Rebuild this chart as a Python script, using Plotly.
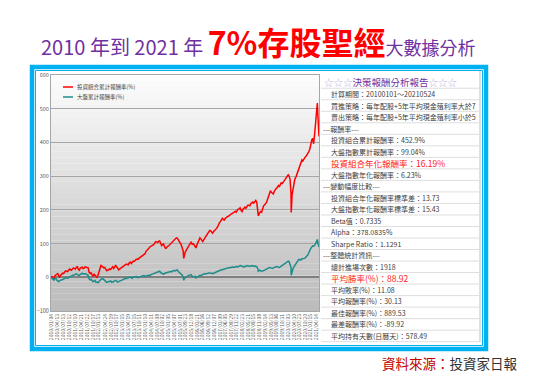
import plotly.graph_objects as go
import pandas as pd

# ---------------- data ----------------
month_starts = pd.date_range("2010-01-01", "2021-05-01", freq="MS")

# value on the 1st of each month
portfolio_monthly = [
    0, -3, 4, 9, 3, 6, 12, 16, 18, 21, 23, 25,            # 2010
    26, 30, 24, 27, 30, 27, 30, 28, 11, 7, 9, 2,          # 2011
    6, 30, 33, 28, 24, 21, 25, 28, 26, 36, 28, 24,        # 2012
    28, 33, 36, 38, 43, 41, 48, 51, 54, 57, 60, 63,       # 2013
    70, 80, 86, 92, 96, 102, 105, 107, 100, 97, 90, 87,   # 2014
    93, 100, 106, 112, 117, 110, 100, 86, 70, 80, 90, 102,  # 2015
    98, 96, 87, 102, 117, 108, 112, 119, 128, 139, 134, 136,  # 2016
    141, 150, 162, 172, 171, 175, 180, 184, 188, 192, 196, 199,  # 2017
    203, 198, 202, 208, 212, 214, 219, 223, 227, 222, 186, 195,  # 2018
    208, 215, 222, 240, 257, 250, 256, 264, 272, 275, 278, 284,  # 2019
    292, 304, 290, 245, 280, 298, 312, 330, 348, 352, 358, 368,  # 2020
    380, 408, 396, 455, 505,                                # 2021
]
# value on the 15th of each month (2010-01 .. 2021-04)
portfolio_mid = [
    2, -5, 8, 11, 0, 10, 11, 19, 17, 24, 21, 28,          # 2010
    24, 31, 21, 29, 26, 31, 27, 15, 13, 3, 6, 0,          # 2011
    18, 35, 30, 29, 20, 24, 23, 31, 33, 31, 22, 27,       # 2012
    31, 33, 39, 37, 45, 44, 47, 53, 53, 59, 63, 65,       # 2013
    77, 81, 90, 95, 97, 106, 103, 108, 94, 99, 86, 92,    # 2014
    96, 104, 107, 115, 116, 107, 97, 78, 74, 83, 95, 104,  # 2015
    100, 92, 96, 110, 114, 106, 116, 123, 131, 138, 131, 138,  # 2016
    145, 158, 165, 175, 170, 178, 181, 187, 189, 195, 193, 202,  # 2017
    206, 195, 206, 205, 214, 212, 222, 220, 228, 205, 191, 193,  # 2018
    212, 218, 230, 248, 252, 247, 262, 266, 268, 280, 282, 288,  # 2019
    298, 300, 250, 262, 292, 305, 318, 338, 345, 355, 362, 372,  # 2020
    400, 412, 420, 490,                                     # 2021
]
market_monthly = [
    0, -8, -4, -9, -13, -9, -5, -3, -1, 0, 3, 5,          # 2010
    8, 10, 7, 9, 12, 10, 9, 6, -8, -10, -11, -15,         # 2011
    -16, -8, -5, -7, -12, -14, -12, -15, -13, -9, -14, -12,  # 2012
    -8, -6, -4, -2, 0, -2, 1, 2, 0, 1, 3, 4,              # 2013
    3, 5, 6, 8, 10, 12, 16, 17, 14, 10, 12, 14,           # 2014
    16, 17, 19, 20, 21, 17, 12, 6, -4, 2, 5, 7,           # 2015
    4, 2, -2, 3, 6, 7, 9, 10, 12, 13, 12, 12,             # 2016
    14, 17, 20, 22, 24, 26, 28, 29, 30, 30, 31, 32,       # 2017
    33, 34, 31, 33, 34, 33, 34, 33, 32, 31, 20, 19,       # 2018
    19, 22, 25, 27, 28, 26, 30, 32, 30, 31, 34, 38,       # 2019
    42, 48, 40, 20, 32, 40, 50, 52, 55, 57, 60, 66,       # 2020
    82, 90, 92, 100, 110,                                 # 2021
]
market_mid = [
    -3, -9, -2, -12, -10, -7, -6, -1, -3, 2, 4, 7,        # 2010
    10, 8, 5, 11, 9, 11, 8, -4, -6, -13, -9, -14,         # 2011
    -12, -6, -4, -9, -15, -12, -11, -14, -10, -11, -13, -10,  # 2012
    -7, -3, -4, -1, 1, -3, 0, 3, -1, 2, 4, 5,             # 2013
    4, 7, 5, 9, 11, 13, 17, 18, 12, 9, 13, 15,            # 2014
    18, 16, 20, 19, 22, 15, 10, 2, -1, 3, 6, 8,           # 2015
    1, 3, 0, 5, 5, 8, 11, 10, 13, 14, 11, 13,             # 2016
    15, 18, 21, 23, 25, 27, 29, 28, 31, 29, 32, 31,       # 2017
    35, 33, 30, 32, 35, 32, 35, 34, 33, 27, 21, 18,       # 2018
    20, 23, 26, 29, 27, 28, 31, 31, 29, 33, 36, 40,       # 2019
    44, 46, 30, 25, 36, 44, 53, 51, 56, 56, 62, 72,       # 2020
    85, 93, 94, 105,                                      # 2021
]
extra_dates = ["2015-08-24", "2018-10-25", "2020-03-19", "2021-04-28", "2021-05-12", "2021-05-24"]
extra_portfolio = [56, 182, 192, 517, 460, 418]
extra_market = [-9, 18, 6, 112, 98, 90]

series_names = ["投資組合累計報酬率(%)", "大盤累計報酬率(%)"]
series_colors = ["#ff0000", "#1f8c8a"]

tick_labels = [
    "2010/01/04", "2010/04/13", "2010/07/13", "2010/10/12", "2011/01/10", "2011/04/21",
    "2011/07/22", "2011/10/17", "2012/01/13", "2012/04/24", "2012/07/19", "2012/10/17",
    "2013/01/15", "2013/04/19", "2013/07/15", "2013/10/11", "2014/01/10", "2014/04/11",
    "2014/07/08", "2014/10/02", "2015/01/05", "2015/04/07", "2015/07/01", "2015/09/23",
    "2015/12/18", "2016/03/21", "2016/06/16", "2016/09/12", "2016/12/07", "2017/03/09",
    "2017/06/05", "2017/08/29", "2017/11/22", "2018/02/23", "2018/05/21", "2018/08/15",
    "2018/11/08", "2019/02/14", "2019/05/13", "2019/08/06", "2019/10/31", "2020/02/03",
    "2020/04/30", "2020/07/23", "2020/10/20", "2021/01/15", "2021/04/14",
]
y_ticks = [-100, 0, 100, 200, 300, 400, 500, 600]

report_title = ("☆☆☆", "決策報酬分析報告", "☆☆☆")
report_rows = [
    ("計算期間：20100101～20210524", "item"),
    ("買進策略：每年配股+5年平均現金殖利率大於7", "item"),
    ("賣出策略：每年配股+5年平均現金殖利率小於5", "item"),
    ("---報酬率---", "section"),
    ("投資組合累計報酬率：452.9%", "item"),
    ("大盤指數累計報酬率：99.04%", "item"),
    ("投資組合年化報酬率：16.19%", "hl"),
    ("大盤指數年化報酬率：6.23%", "item"),
    ("---變動幅度比較---", "section"),
    ("投資組合年化報酬率標準差：13.73", "item"),
    ("大盤指數年化報酬率標準差：15.43", "item"),
    ("Beta值：0.7335", "item"),
    ("Alpha：378.0835%", "item"),
    ("Sharpe Ratio：1.1291", "item"),
    ("---整體統計資訊---", "section"),
    ("總計進場次數：1918", "item"),
    ("平均勝率(%)：88.92", "hl"),
    ("平均敗率(%)：11.08", "item"),
    ("平均報酬率(%)：30.13", "item"),
    ("最佳報酬率(%)：889.53", "item"),
    ("最差報酬率(%)：-89.92", "item"),
    ("平均持有天數(日曆天)：578.49", "item"),
]

# ---------------- build ----------------
mid_dates = month_starts[:-1] + pd.Timedelta(days=14)
df = pd.concat([
    pd.DataFrame({"date": month_starts, "p": portfolio_monthly, "m": market_monthly}),
    pd.DataFrame({"date": mid_dates, "p": portfolio_mid, "m": market_mid}),
    pd.DataFrame({"date": pd.to_datetime(extra_dates), "p": extra_portfolio, "m": extra_market}),
]).sort_values("date")

FONT = "Noto Sans CJK TC"
W, H = 533, 379
PL, PR, PT, PB = 51, 319, 75, 311


def px(x):
    return (x - PL) / (PR - PL)


def py(y):
    return (PB - y) / (PB - PT)


fig = go.Figure()
fig.add_trace(go.Scatter(x=df["date"], y=df["p"], mode="lines", name=series_names[0],
                         line=dict(color=series_colors[0], width=1.5)))
fig.add_trace(go.Scatter(x=df["date"], y=df["m"], mode="lines", name=series_names[1],
                         line=dict(color=series_colors[1], width=1.5)))

shapes = []
# gradient plot background
N = 40
for i in range(N):
    t = i / (N - 1)
    c = int(252 - (252 - 188) * t)
    shapes.append(dict(type="rect", xref="paper", yref="paper", x0=0, x1=1,
                       y0=1 - (i + 1) / N, y1=1 - i / N, layer="below",
                       line=dict(width=0), fillcolor=f"rgb({c},{c},{c})"))

# report panel
row_y0 = 94
row_h = 11.52
shapes.append(dict(type="line", xref="paper", yref="paper", x0=px(480), x1=px(480),
                   y0=py(71), y1=py(342), line=dict(color="#bfbfbf", width=1)))
for k in range(len(report_rows) + 1):
    yy = row_y0 + k * row_h - row_h / 2
    shapes.append(dict(type="line", xref="paper", yref="paper", x0=px(321), x1=px(480),
                       y0=py(yy), y1=py(yy), line=dict(color="#dedede", width=1)))

# blue frame
shapes.append(dict(type="rect", xref="paper", yref="paper", x0=px(32), x1=px(486),
                   y0=py(349), y1=py(67), line=dict(color="#00b0f0", width=4.5)))
shapes.append(dict(type="rect", xref="paper", yref="paper", x0=px(35.5), x1=px(482.5),
                   y0=py(345.5), y1=py(70.5), line=dict(color="#00b0f0", width=1)))

# legend samples
for i, yy in enumerate([87, 97]):
    shapes.append(dict(type="line", xref="paper", yref="paper", x0=px(63), x1=px(73),
                       y0=py(yy), y1=py(yy), line=dict(color=series_colors[i], width=1.5)))

annotations = []
for i, yy in enumerate([87, 97]):
    annotations.append(dict(xref="paper", yref="paper", x=px(74.5), y=py(yy), text=series_names[i],
                            showarrow=False, xanchor="left", yanchor="middle",
                            font=dict(family=FONT, size=5.5, color="#404040")))

# title
annotations.append(dict(
    xref="paper", yref="paper", x=px(258), y=py(41), showarrow=False,
    xanchor="center", yanchor="middle",
    text=("<span style='color:#7030a0;font-size:20px'>2010 年到 2021 年 </span>"
          "<span style='color:#ff0000;font-size:32px'><b>7%存股聖經</b></span>"
          "<span style='color:#7030a0;font-size:18px'>大數據分析</span>"),
    font=dict(family=FONT, size=20)))

# report title
annotations.append(dict(
    xref="paper", yref="paper", x=px(322), y=py(81.5), showarrow=False,
    xanchor="left", yanchor="middle",
    text=(f"<span style='color:#c3b1e1'>{report_title[0]}</span>"
          f"<span style='color:#7030a0'>{report_title[1]}</span>"
          f"<span style='color:#c3b1e1'>{report_title[2]}</span>"),
    font=dict(family=FONT, size=9.5)))

for k, (txt, kind) in enumerate(report_rows):
    yy = row_y0 + k * row_h
    if kind == "section":
        x0, size, color = 321, 7, "#404040"
    elif kind == "hl":
        x0, size, color = 329, 8.5, "#ff2020"
    else:
        x0, size, color = 329, 7, "#404040"
    annotations.append(dict(xref="paper", yref="paper", x=px(x0), y=py(yy), text=txt,
                            showarrow=False, xanchor="left", yanchor="middle",
                            font=dict(family=FONT, size=size, color=color)))

# source
annotations.append(dict(
    xref="paper", yref="paper", x=px(520), y=py(363), showarrow=False,
    xanchor="right", yanchor="middle",
    text="<span style='color:#c00000'>資料來源：</span><span style='color:#333333'>投資家日報</span>",
    font=dict(family=FONT, size=13.5)))

tick_iso = [t.replace("/", "-") for t in tick_labels]

fig.update_layout(
    width=W, height=H,
    margin=dict(l=PL, r=W - PR, t=PT, b=H - PB, pad=0),
    paper_bgcolor="white", plot_bgcolor="rgba(0,0,0,0)",
    showlegend=False,
    font=dict(family=FONT),
    shapes=shapes, annotations=annotations,
    xaxis=dict(type="date", range=["2010-01-01", "2021-05-24"],
               tickmode="array", tickvals=tick_iso, ticktext=tick_labels,
               tickangle=-90, tickfont=dict(size=5, color="#595959", family=FONT),
               showgrid=False, showline=True, linecolor="#a6a6a6", linewidth=1,
               mirror=True, ticks="", zeroline=False),
    yaxis=dict(range=[-100, 600], tickmode="array", tickvals=y_ticks,
               tickfont=dict(size=5.5, color="#595959", family=FONT),
               showgrid=True, gridcolor="#a6a6a6", gridwidth=1,
               zeroline=True, zerolinecolor="#7f7f7f", zerolinewidth=2,
               showline=True, linecolor="#a6a6a6", linewidth=1, mirror=True, ticks=""),
)

fig.write_html("out.html", config={"displayModeBar": False},
               post_script="document.body.style.margin='0';document.body.style.overflow='hidden';")
